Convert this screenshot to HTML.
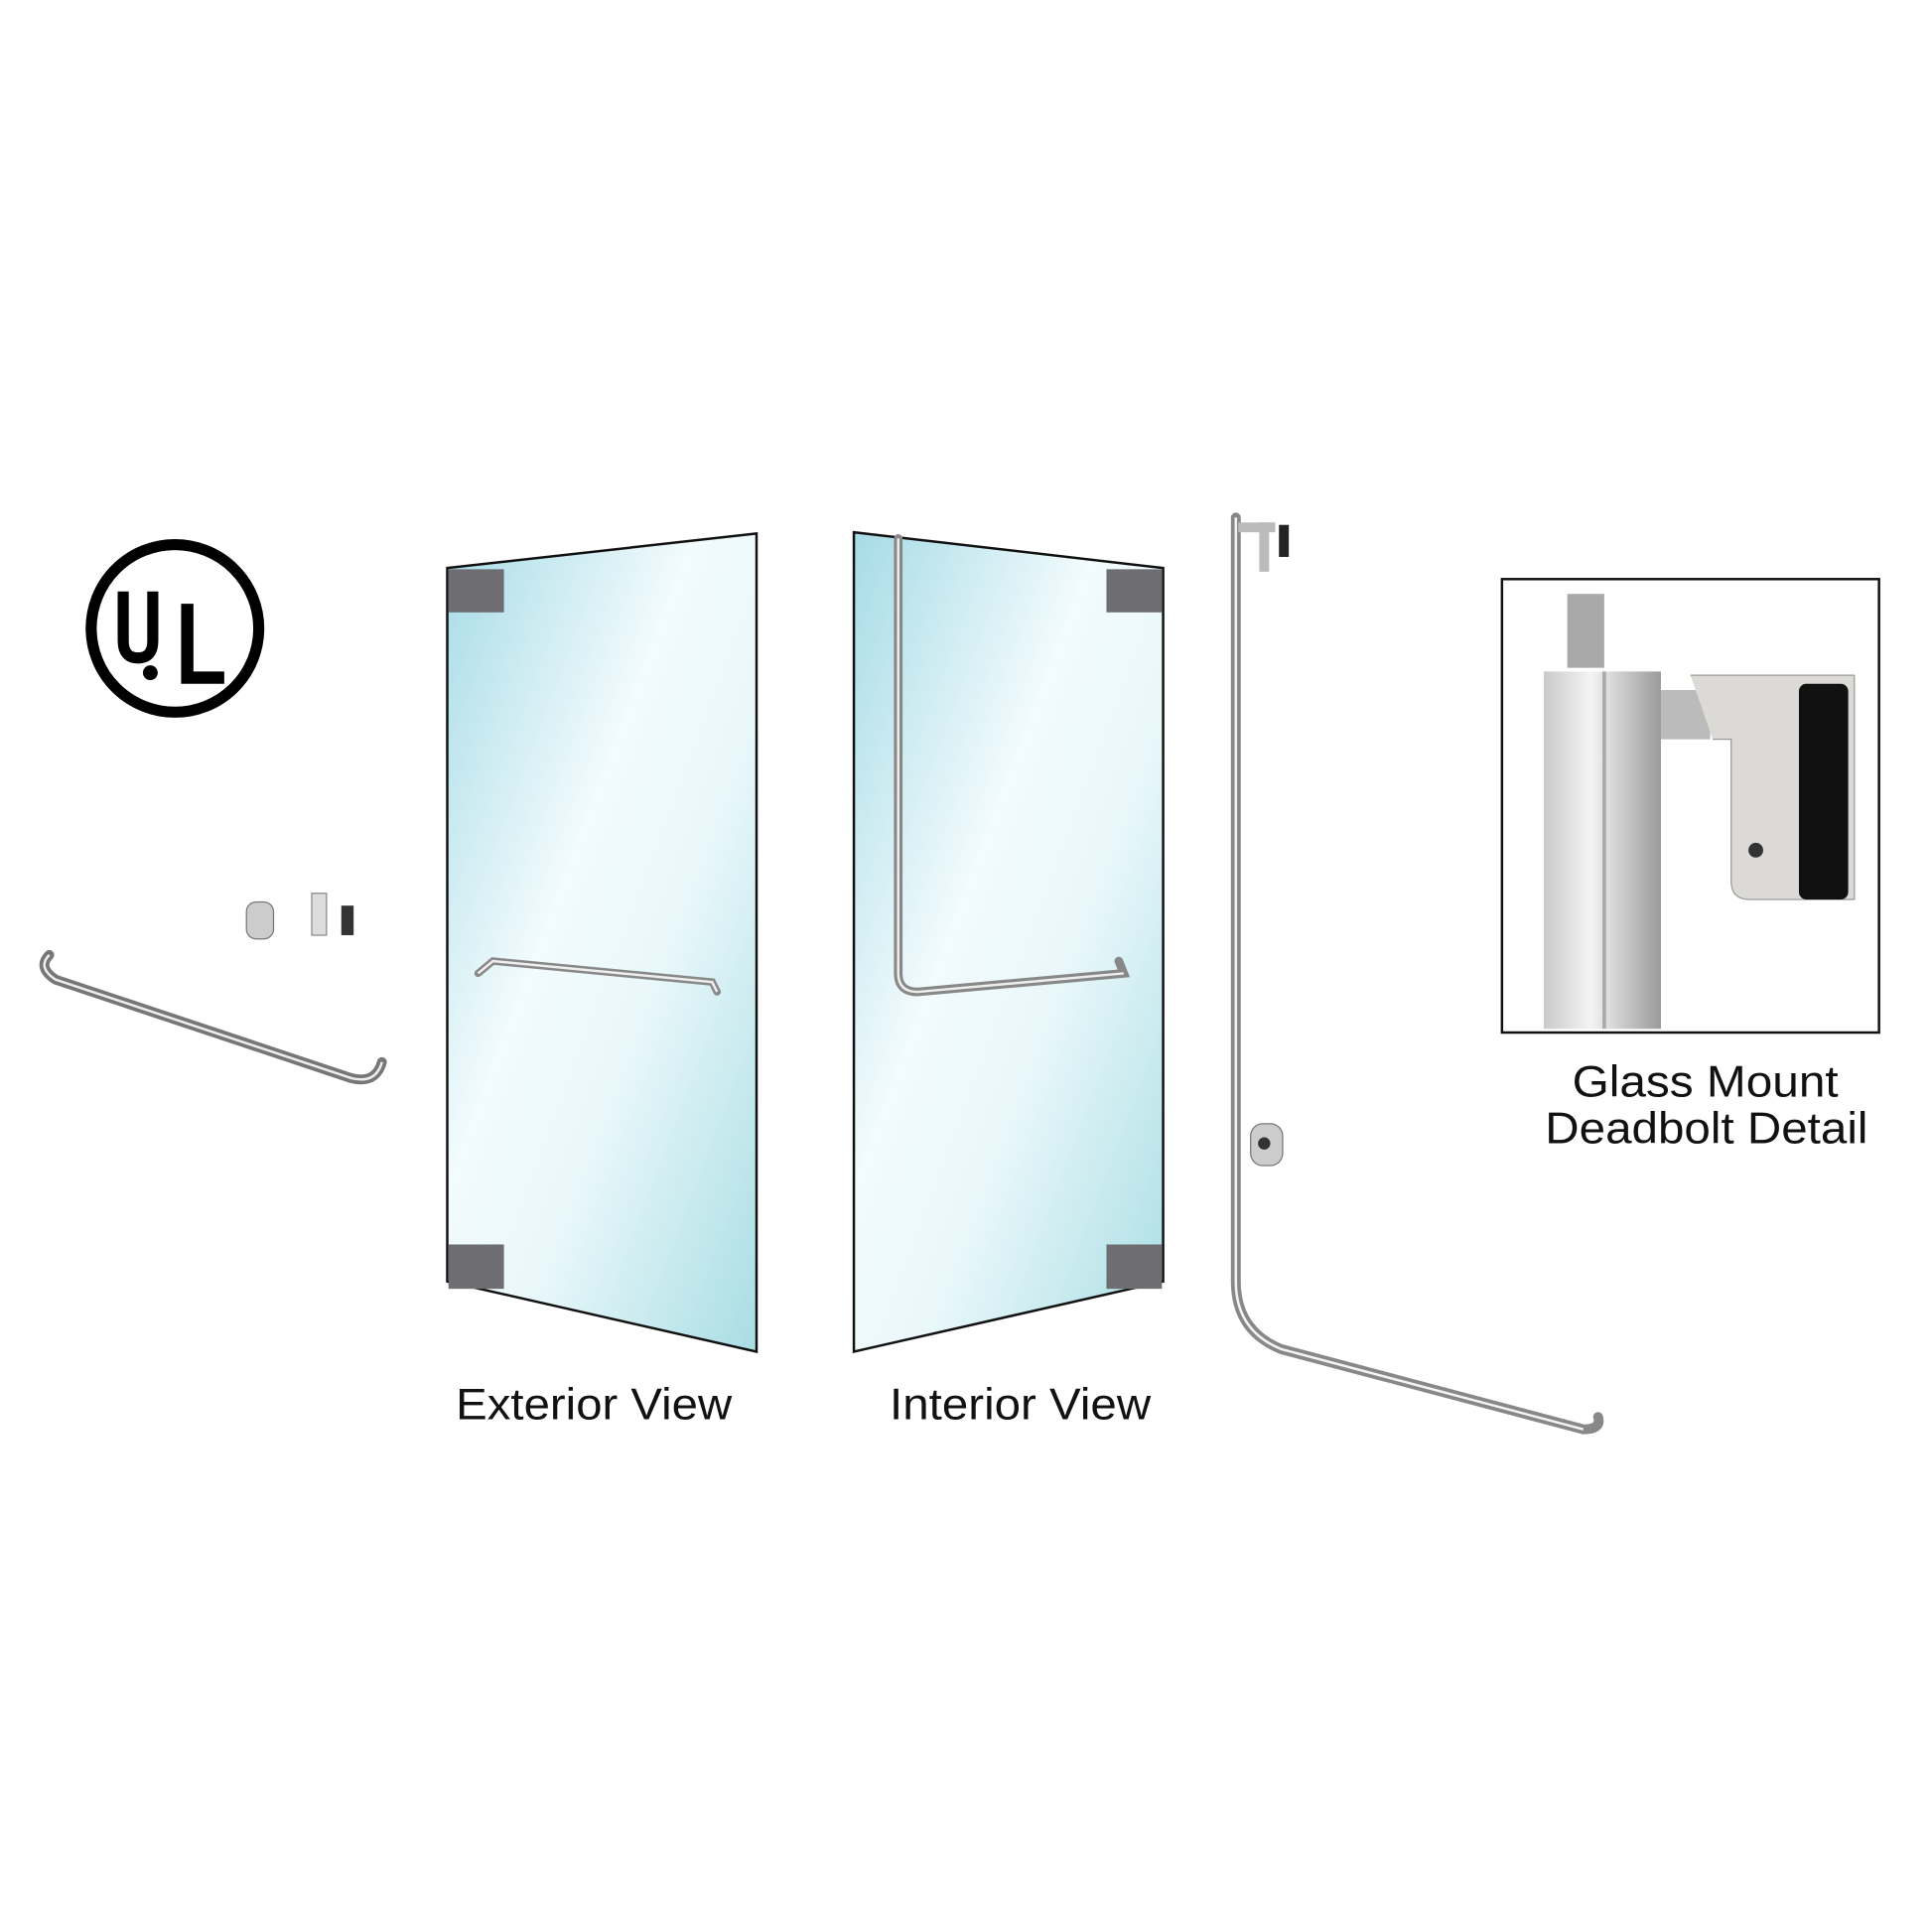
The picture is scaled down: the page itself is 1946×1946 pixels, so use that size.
<!DOCTYPE html>
<html><head><style>html,body{margin:0;padding:0;background:#fff}svg{display:block}</style></head>
<body>
<svg width="1946" height="1946" viewBox="0 0 1568 1568" xmlns="http://www.w3.org/2000/svg" font-family="Liberation Sans, sans-serif">
<defs>
<linearGradient id="g1" x1="0" y1="0" x2="1" y2="1">
<stop offset="0" stop-color="#a6dbe6"/><stop offset="0.4" stop-color="#f2fbfd"/><stop offset="0.6" stop-color="#eaf8fb"/><stop offset="1" stop-color="#a8dde3"/>
</linearGradient>
<linearGradient id="met" x1="0" y1="0" x2="1" y2="0">
<stop offset="0" stop-color="#c9c9c9"/><stop offset="0.4" stop-color="#f4f4f4"/><stop offset="1" stop-color="#9a9a9a"/>
</linearGradient>
</defs>
<rect width="1568" height="1568" fill="#fff"/>
<!-- UL -->
<ellipse cx="142" cy="510" rx="68" ry="68" fill="none" stroke="#000" stroke-width="9"/>
<path d="M100 480 v40 q0 14 12 14 q12 0 12 -14 v-40" fill="none" stroke="#000" stroke-width="9"/>
<circle cx="122" cy="546" r="6" fill="#000"/>
<path d="M152 490 v60 h30" fill="none" stroke="#000" stroke-width="10"/>
<!-- exterior door -->
<polygon points="363,461 614,433 614,1097 363,1040" fill="url(#g1)" stroke="#111" stroke-width="2"/>
<rect x="364" y="462" width="45" height="35" fill="#6e6e72"/>
<rect x="364" y="1010" width="45" height="36" fill="#6e6e72"/>
<path d="M388 790 L400 780 L578 797 L582 805" fill="none" stroke="#888" stroke-width="6" stroke-linecap="round"/>
<path d="M388 790 L400 780 L578 797 L582 805" fill="none" stroke="#eee" stroke-width="2"/>
<!-- interior door -->
<polygon points="693,432 944,461 944,1040 693,1097" fill="url(#g1)" stroke="#111" stroke-width="2"/>
<rect x="898" y="462" width="45" height="35" fill="#6e6e72"/>
<rect x="898" y="1010" width="45" height="36" fill="#6e6e72"/>
<path d="M729 437 V790 Q729 805 745 805 L912 790 L908 780" fill="none" stroke="#888" stroke-width="7" stroke-linecap="round"/>
<path d="M729 437 V790 Q729 805 745 805 L912 790" fill="none" stroke="#eee" stroke-width="2"/>
<!-- left bar & parts -->
<path d="M40 775 Q30 785 45 795 L285 875 Q305 880 310 862" fill="none" stroke="#777" stroke-width="8" stroke-linecap="round"/>
<path d="M40 775 Q30 785 45 795 L285 875 Q305 880 310 862" fill="none" stroke="#eee" stroke-width="2"/>
<rect x="200" y="732" width="22" height="30" rx="8" fill="#ccc" stroke="#777"/>
<rect x="253" y="725" width="12" height="34" fill="#ddd" stroke="#888"/>
<rect x="277" y="735" width="10" height="24" fill="#333"/>
<!-- right vertical bar -->
<path d="M1003 420 V1040 Q1003 1080 1040 1095 L1285 1160 Q1300 1160 1297 1150" fill="none" stroke="#888" stroke-width="8" stroke-linecap="round"/>
<path d="M1003 420 V1040 Q1003 1080 1040 1095 L1285 1160" fill="none" stroke="#f4f4f4" stroke-width="2"/>
<rect x="1005" y="424" width="30" height="8" fill="#bbb"/>
<rect x="1022" y="424" width="8" height="40" fill="#bbb"/>
<rect x="1038" y="426" width="8" height="26" fill="#222"/>
<rect x="1015" y="912" width="26" height="34" rx="10" fill="#ccc" stroke="#777"/>
<circle cx="1026" cy="928" r="5" fill="#333"/>
<!-- detail box -->
<rect x="1219" y="470" width="306" height="368" fill="#fff" stroke="#111" stroke-width="2"/>
<rect x="1272" y="482" width="30" height="60" fill="#a9a9a9"/>
<rect x="1253" y="545" width="95" height="290" fill="url(#met)"/>
<line x1="1302" y1="545" x2="1302" y2="835" stroke="#aaa" stroke-width="3"/>
<rect x="1348" y="560" width="40" height="40" fill="#bbb"/>
<path d="M1372 548 H1505 V730 H1420 Q1405 730 1405 715 V600 H1390" fill="#dcdad6" stroke="#999"/>
<rect x="1460" y="555" width="40" height="175" rx="6" fill="#111"/>
<circle cx="1425" cy="690" r="6" fill="#333"/>
<!-- labels -->
<g font-size="36" fill="#111">
<text x="370" y="1152" textLength="224" lengthAdjust="spacingAndGlyphs">Exterior View</text>
<text x="722" y="1152" textLength="212" lengthAdjust="spacingAndGlyphs">Interior View</text>
<text x="1276" y="890" textLength="216" lengthAdjust="spacingAndGlyphs">Glass Mount</text>
<text x="1254" y="928" textLength="262" lengthAdjust="spacingAndGlyphs">Deadbolt Detail</text>
</g>
</svg>
</body></html>
